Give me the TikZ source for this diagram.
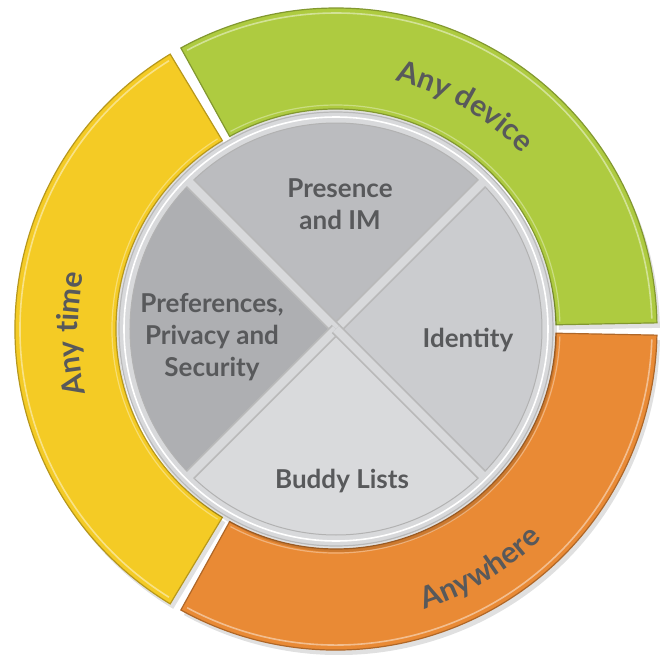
\documentclass[tikz,border=0pt]{standalone}
\usepackage{fontspec}
\setmainfont{Lato}
\usetikzlibrary{decorations.text}
\definecolor{ringgreen}{HTML}{AECB40}
\definecolor{ringyellow}{HTML}{F4CB25}
\definecolor{ringorange}{HTML}{E98A35}
\definecolor{labelgray}{HTML}{58595B}
\definecolor{rimgray}{HTML}{D8D9DB}
\definecolor{quadtop}{HTML}{BBBCBF}
\definecolor{quadleft}{HTML}{AEAFB2}
\definecolor{quadright}{HTML}{CBCCCF}
\definecolor{quadbottom}{HTML}{D9DADC}
\def\ro{321}
\def\ri{220}
\def\rq{206}

\begin{document}
\begin{tikzpicture}[x=0.5pt,y=0.5pt]
	\tikzstyle{quadtext}=[text=labelgray,font=\fontsize{13}{16}\selectfont\bfseries,align=center]
	\tikzstyle{ringtext}=[decorate,decoration={text along path,text align=center,text color=labelgray}]
	\useasboundingbox (-336,-325) rectangle (334,329);
	% outer ring
	\foreach \a/\b/\c in {1.1/118.9/ringgreen,121.1/238.9/ringyellow,241.1/358.9/ringorange} {
		\fill[black,opacity=.12] ([shift={(3,-5)}]\a:\ro) arc[start angle=\a,end angle=\b,radius=\ro]
			-- ([shift={(3,-5)}]\b:\ri) arc[start angle=\b,end angle=\a,radius=\ri] -- cycle;
		\filldraw[fill=\c,draw=\c!75!black,line width=.6pt] (\a:\ro) arc[start angle=\a,end angle=\b,radius=\ro]
			-- (\b:\ri) arc[start angle=\b,end angle=\a,radius=\ri] -- cycle;
		\draw[white,opacity=.45,line width=.8pt] ({\a+.8}:{\ro-5}) arc[start angle=\a+.8,end angle=\b-.8,radius=\ro-5];
		\draw[white,opacity=.35,line width=.6pt] ({\a+.8}:{\ri+4}) arc[start angle=\a+.8,end angle=\b-.8,radius=\ri+4];
	}
	\path[ringtext,decoration={text={|\fontsize{15}{17}\selectfont\bfseries|Any device}}]
		(100:255) arc[start angle=100,end angle=20,radius=255];
	\path[ringtext,decoration={text={|\fontsize{15}{17}\selectfont\bfseries|Any time}}]
		(221:258) arc[start angle=221,end angle=141,radius=258];
	\path[ringtext,decoration={text={|\fontsize{15}{17}\selectfont\bfseries|Anywhere}}]
		(-99:294) arc[start angle=-99,end angle=-19,radius=294];
	% inner disc
	\fill[black,opacity=.12] (3,-5) circle (218);
	\filldraw[fill=rimgray,draw=gray!55,line width=.6pt] (0,0) circle (217);
	\draw[white,line width=.8pt] (0,0) circle (212);
	\foreach \a/\c in {45/quadtop,135/quadleft,225/quadbottom,315/quadright} {
		\filldraw[fill=\c,draw=gray!60,line width=.5pt] (0,0) -- (\a:\rq) arc[start angle=\a,end angle=\a+90,radius=\rq] -- cycle;
	}
	\foreach \a in {45,135,225,315} {
		\draw[gray!55,line width=6pt] (0,0) -- (\a:\rq);
		\draw[rimgray,line width=4.2pt] (0,0) -- (\a:{\rq+2});
	}
	\node[quadtext] (presence) at (4,125) {Presence\\and IM};
	\node[quadtext] (identity) at (132,-11) {Identity};
	\node[quadtext] (buddy) at (6,-152) {Buddy Lists};
	\node[quadtext] (prefs) at (-124,-8) {Preferences,\\Privacy and\\Security};
\end{tikzpicture}
\end{document}
